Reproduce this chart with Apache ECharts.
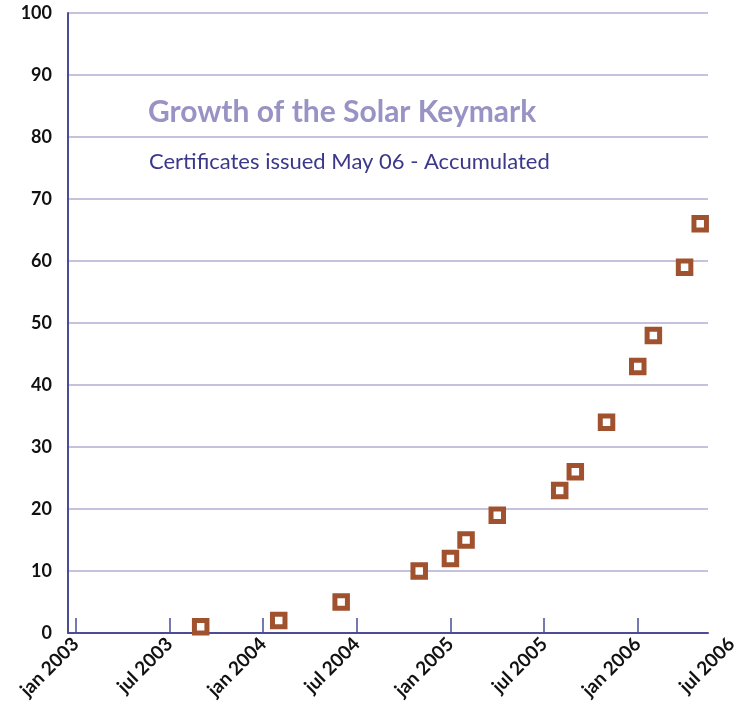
<!DOCTYPE html>
<html>
<head>
<meta charset="utf-8">
<script src="https://cdn.jsdelivr.net/npm/echarts@6/dist/echarts.min.js"></script>
<style>html,body{margin:0;padding:0;background:#fff}#c{width:742px;height:717px}</style>
</head>
<body>
<div id="c"></div>
<script>
// Data (month of issue, accumulated certificates)
const issueMonths = ['2003-09','2004-02','2004-06','2004-11','2005-01','2005-02','2005-04','2005-08','2005-09','2005-11','2006-01','2006-02','2006-04','2006-05'];
const certificates = [1, 2, 5, 10, 12, 15, 19, 23, 26, 34, 43, 48, 59, 66];
const xTickMonths = ['2003-01','2003-07','2004-01','2004-07','2005-01','2005-07','2006-01','2006-07'];
const xTickLabels = ['jan 2003','jul 2003','jan 2004','jul 2004','jan 2005','jul 2005','jan 2006','jul 2006'];
const yTicks = [0,10,20,30,40,50,60,70,80,90,100];
const titleText = 'Growth of the Solar Keymark';
const subtitleText = 'Certificates issued May 06 - Accumulated';

function monthIndex(s){ const [y,m] = s.split('-').map(Number); return (y-2003)*12 + (m-1); }
const tickIdx = xTickMonths.map(monthIndex);
const labelMap = {}; tickIdx.forEach((v,i)=>labelMap[v]=xTickLabels[i]);
const points = issueMonths.map((m,i)=>[monthIndex(m), certificates[i]]);

const FONT = 'Lato';
const chart = echarts.init(document.getElementById('c'));
chart.setOption({
  animation:false,
  title:[
    {text:titleText, left:143, top:92, textStyle:{fontFamily:FONT, fontSize:30, fontWeight:'bold', color:'#9893c4'}},
    {text:subtitleText, left:144, top:146, textStyle:{fontFamily:FONT, fontSize:22, fontWeight:'normal', color:'#3b388a'}}
  ],
  grid:[
    {left:68, right:34, top:13, bottom:84, outerBoundsMode:'none', containLabel:false},
    {left:68, right:10.6, top:13, bottom:84, outerBoundsMode:'none', containLabel:false}
  ],
  xAxis:[
    {type:'value', gridIndex:0, min:-0.5, max:40.5,
     axisLine:{show:true, onZero:false, lineStyle:{color:'#4a4d96', width:2}},
     axisTick:{show:true, inside:true, length:15, customValues:tickIdx, lineStyle:{color:'#4a4d96', width:1.5}},
     axisLabel:{show:false}, splitLine:{show:false}},
    {type:'value', gridIndex:1, min:-0.5, max:42,
     axisLine:{show:false}, axisTick:{show:false}, splitLine:{show:false},
     axisLabel:{show:true, customValues:tickIdx, rotate:45, margin:8,
       fontFamily:FONT, fontSize:19, fontWeight:'bold', color:'#111',
       formatter:v=>labelMap[v]||''}}
  ],
  yAxis:[
    {type:'value', gridIndex:0, min:0, max:100, interval:10,
     axisLine:{show:true, onZero:false, lineStyle:{color:'#4a4d96', width:2}},
     axisTick:{show:false},
     axisLabel:{margin:16, fontFamily:FONT, fontSize:18, fontWeight:'bold', color:'#111'},
     splitLine:{show:true, lineStyle:{color:'#c6c2de', width:2}}},
    {type:'value', gridIndex:1, min:0, max:100, show:false, splitLine:{show:false}}
  ],
  series:[{
    type:'scatter', xAxisIndex:0, yAxisIndex:0, data:points,
    symbol:'rect', symbolSize:12.5,
    itemStyle:{color:'#ffffff', borderColor:'#a0522f', borderWidth:5, opacity:1}
  }]
});
</script>
</body>
</html>
